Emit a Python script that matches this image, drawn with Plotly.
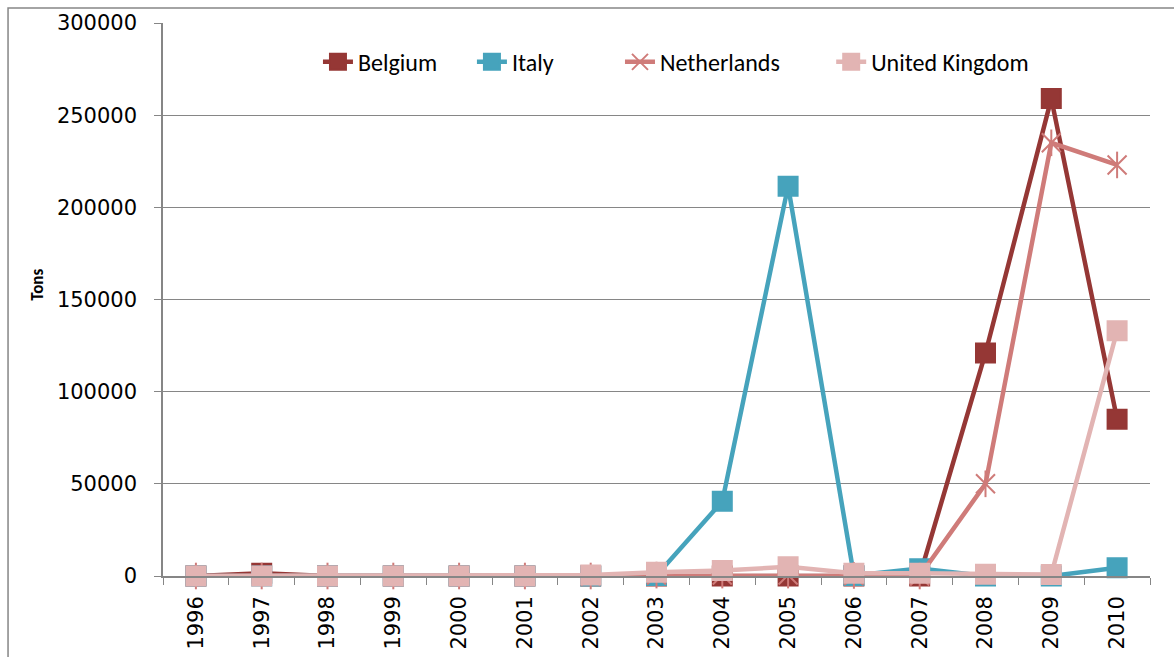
import plotly.graph_objects as go

# Annual tonnages by country, 1996-2010
years = [str(y) for y in range(1996, 2011)]
belgium = [0, 1500, 0, 0, 0, 0, 0, 0, 0, 0, 0, 0, 121000, 259000, 85000]
italy = [0, 0, 0, 0, 0, 0, 0, 300, 40500, 211500, 300, 4000, 0, 0, 4500]
netherlands = [0, 0, 0, 0, 0, 0, 0, 500, 500, 500, 300, 0, 50000, 235000, 223000]
united_kingdom = [0, 0, 0, 0, 0, 0, 500, 2000, 3000, 5000, 1500, 1500, 1000, 800, 133000]

series_names = ["Belgium", "Italy", "Netherlands", "United Kingdom"]
colors = {
    "Belgium": "#953735",
    "Italy": "#46A3BC",
    "Netherlands": "#CF7B79",
    "United Kingdom": "#E2B4B3",
}
# left edge of each legend entry (paper units)
legend_x = {"Belgium": 0.157, "Italy": 0.313, "Netherlands": 0.463, "United Kingdom": 0.677}
legend_ids = {"Belgium": "legend", "Italy": "legend2", "Netherlands": "legend3", "United Kingdom": "legend4"}

tick_font = dict(family="DejaVu Sans, Verdana, sans-serif", size=21, color="#000000")
legend_font = dict(family="Carlito, Lato, sans-serif", size=24, color="#000000")

fig = go.Figure()

def add_series(name, values, symbol):
    fig.add_trace(go.Scatter(
        x=years, y=values, name=name, mode="lines+markers",
        line=dict(color=colors[name], width=4.5),
        marker=dict(symbol=symbol, size=19, color=colors[name],
                    line=dict(color=colors[name], width=2)),
        cliponaxis=False, legend=legend_ids[name],
    ))

add_series("Belgium", belgium, "square")
add_series("Italy", italy, "square")
add_series("Netherlands", netherlands, "x-thin-open")
# vertical stroke that turns the x marker into a star
fig.add_trace(go.Scatter(
    x=years, y=netherlands, mode="markers", showlegend=False,
    marker=dict(symbol="line-ns-open", size=19, color=colors["Netherlands"],
                line=dict(color=colors["Netherlands"], width=2)),
    cliponaxis=False, hoverinfo="skip",
))
add_series("United Kingdom", united_kingdom, "square")

legend_layout = {}
for name in series_names:
    legend_layout[legend_ids[name]] = dict(
        orientation="h", x=legend_x[name], xanchor="left", y=0.929, yanchor="middle",
        font=legend_font, bgcolor="rgba(0,0,0,0)",
    )

fig.update_layout(
    width=1174, height=657,
    margin=dict(l=163, r=24, t=23, b=81),
    paper_bgcolor="white", plot_bgcolor="white",
    showlegend=True,
    xaxis=dict(
        type="category", range=[-0.5, 14.5], automargin=False,
        tickson="boundaries", ticks="outside", ticklen=7, tickcolor="#868686",
        showline=True, linecolor="#868686", linewidth=1.5,
        showgrid=False, tickangle=-90, tickfont=tick_font,
        ticklabelstandoff=10,
    ),
    yaxis=dict(
        range=[0, 300000], dtick=50000, tickformat="d", automargin=False,
        ticks="outside", ticklen=7, tickcolor="#868686",
        showline=True, linecolor="#868686", linewidth=1.5,
        showgrid=True, gridcolor="#868686", gridwidth=1,
        zeroline=False, tickfont=tick_font, ticklabelstandoff=13,
    ),
    **legend_layout,
)

# y-axis title
fig.add_annotation(text="<b>Tons</b>", textangle=-90, showarrow=False,
                   xref="paper", yref="paper", x=-0.128, y=0.526,
                   xanchor="center", yanchor="middle",
                   font=dict(family="Carlito, Lato, sans-serif", size=17, color="#000000"))

# outer chart frame
fig.add_shape(type="rect", xref="paper", yref="paper",
              x0=-0.157, x1=1.2, y0=-0.3, y1=1.027,
              line=dict(color="#868686", width=1.5), layer="below")

fig.write_html("out.html")
